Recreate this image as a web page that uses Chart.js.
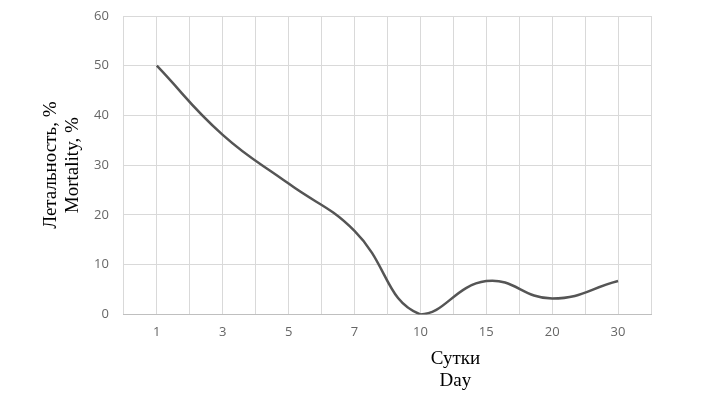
<!DOCTYPE html>
<html>
<head>
<meta charset="utf-8">
<script src="https://cdn.jsdelivr.net/npm/chart.js@4"></script>
<style>
  html, body { margin: 0; padding: 0; background: #fff; }
  #wrap { width: 707px; height: 401px; }
</style>
</head>
<body>
<div id="wrap"><canvas id="mortality-chart"></canvas></div>
<script>
const days = ['1', '3', '5', '7', '10', '15', '20', '30'];
const mortality = [50, 36.1, 26.3, 16.8, 0, 6.7, 3.2, 6.7];
const yTicks = [0, 10, 20, 30, 40, 50, 60];

const xTitle = ['Сутки', 'Day'];
const yTitle = ['Летальность, %', 'Mortality, %'];

const gridColor = '#d9d9d9';
const tickColor = '#666666';

// axis titles drawn by hand: the x one sits right of centre, the y one is two tight lines
const axisTitles = {
    id: 'axisTitles',
    afterDraw(chart) {
        const { ctx, chartArea } = chart;
        ctx.save();
        ctx.font = '19px "Liberation Serif", "Times New Roman", serif';
        ctx.fillStyle = '#000';
        ctx.textAlign = 'center';
        ctx.textBaseline = 'middle';
        const cx = chartArea.left + (chartArea.right - chartArea.left) * 0.629;
        ctx.fillText(xTitle[0], cx, chartArea.bottom + 45);
        ctx.fillText(xTitle[1], cx, chartArea.bottom + 67);

        const cy = (chartArea.top + chartArea.bottom) / 2;
        ctx.translate(chartArea.left - 73, cy);
        ctx.rotate(-Math.PI / 2);
        ctx.fillText(yTitle[0], 0, 0);
        ctx.fillText(yTitle[1], 0, 22);
        ctx.restore();
    },
};

new Chart(document.getElementById('mortality-chart'), {
    type: 'line',
    data: {
        datasets: [
            {
                data: mortality.map((y, i) => ({ x: i + 1, y })),
                borderColor: '#555555',
                borderWidth: 2.5,
                fill: false,
                tension: 0.45,
                pointRadius: 0,
            },
        ],
    },
    options: {
        responsive: true,
        maintainAspectRatio: false,
        animation: false,
        layout: {
            padding: { left: 79, right: 56, top: 16, bottom: 51 },
        },
        plugins: {
            legend: { display: false },
            tooltip: { enabled: false },
        },
        scales: {
            x: {
                type: 'linear',
                min: 0.5,
                max: 8.5,
                afterBuildTicks(scale) {
                    const ticks = [];
                    for (let v = 0.5; v <= 8.5; v += 0.5) ticks.push({ value: v });
                    scale.ticks = ticks;
                },
                ticks: {
                    autoSkip: false,
                    maxRotation: 0,
                    color: tickColor,
                    font: { family: 'Open Sans', size: 13 },
                    padding: 10,
                    callback: (v) => (Number.isInteger(v) ? days[v - 1] : ''),
                },
                grid: {
                    color: gridColor,
                    drawTicks: false,
                },
                border: { color: '#bfbfbf', width: 1 },
            },
            y: {
                min: 0,
                max: 60,
                afterBuildTicks(scale) {
                    scale.ticks = yTicks.map((value) => ({ value }));
                },
                afterFit(scale) {
                    // tick padding would otherwise push the plot top down
                    scale.paddingTop = 8;
                    scale.paddingBottom = 0;
                },
                ticks: {
                    color: tickColor,
                    font: { family: 'Open Sans', size: 13 },
                    padding: 15,
                },
                grid: {
                    color: gridColor,
                    drawTicks: false,
                },
                border: { display: false },
            },
        },
    },
    plugins: [axisTitles],
});
</script>
</body>
</html>
